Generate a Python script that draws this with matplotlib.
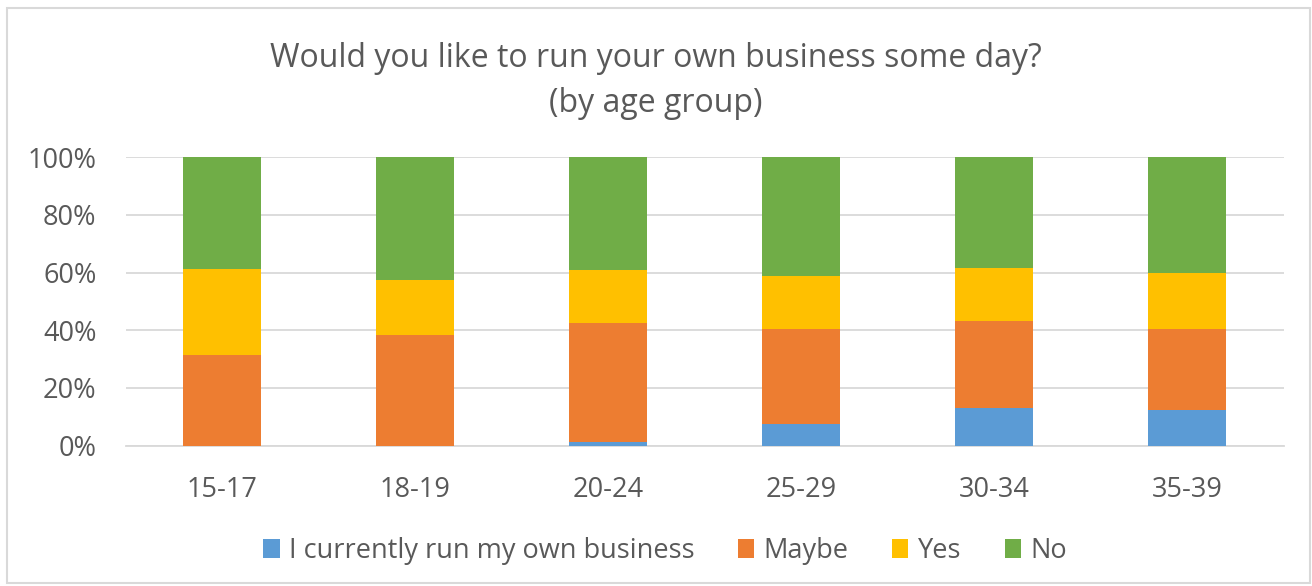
import matplotlib.pyplot as plt
import numpy as np
from matplotlib.patches import Rectangle

plt.rcParams['font.family'] = ['Open Sans', 'DejaVu Sans']

# data (percent of each age group)
age_groups = ['15-17', '18-19', '20-24', '25-29', '30-34', '35-39']
run_own = [0.0, 0.0, 1.4, 7.6, 13.2, 12.4]
maybe = [31.4, 38.3, 41.1, 32.7, 29.9, 28.2]
yes = [29.7, 19.2, 18.4, 18.5, 18.5, 19.4]
no = [38.9, 42.5, 39.1, 41.2, 38.4, 40.0]

series = [
    ('I currently run my own business', run_own, '#5b9bd5'),
    ('Maybe', maybe, '#ed7d31'),
    ('Yes', yes, '#ffc000'),
    ('No', no, '#70ad47'),
]

text_color = '#595959'

fig = plt.figure(figsize=(13.12, 5.86), dpi=100)
ax = fig.add_axes([0.0957, 0.2394, 0.8826, 0.4926])

x = np.arange(len(age_groups))
bottom = np.zeros(len(age_groups))
for label, vals, color in series:
    vals = np.array(vals)
    ax.bar(x, vals, width=0.4, bottom=bottom, color=color, label=label, zorder=3)
    bottom += vals

ax.set_xlim(-0.5, len(age_groups) - 0.5)
ax.set_ylim(0, 100)
ax.set_yticks(range(0, 101, 20))
ax.set_yticklabels([f'{v}%' for v in range(0, 101, 20)])
ax.set_xticks(x)
ax.set_xticklabels(age_groups)
ax.tick_params(length=0, labelsize=19.5, colors=text_color)
ax.tick_params(axis='y', pad=21)
ax.tick_params(axis='x', pad=22)
ax.grid(axis='y', color='#d9d9d9', linewidth=1.3, zorder=0)
for s in ['top', 'right', 'left']:
    ax.spines[s].set_visible(False)
ax.spines['bottom'].set_color('#d9d9d9')
ax.spines['bottom'].set_linewidth(1.3)

fig.text(0.5, 0.862, 'Would you like to run your own business some day?\n(by age group)',
         ha='center', va='center', fontsize=23, color=text_color, linespacing=1.5)

fig.legend(loc='center', bbox_to_anchor=(0.507, 0.06), ncol=4, frameon=False,
           fontsize=19.5, labelcolor=text_color, handlelength=0.6, handleheight=0.7,
           handletextpad=0.35, columnspacing=1.6)

# light border around the chart
fig.patches.append(Rectangle((0.0055, 0.005), 0.993, 0.982, transform=fig.transFigure,
                             fill=False, edgecolor='#d9d9d9', linewidth=1.5))

plt.savefig('out.png', dpi=100)
plt.close()
